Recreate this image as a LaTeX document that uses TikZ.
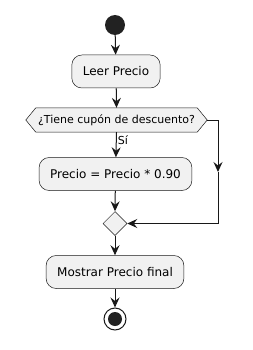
\documentclass[tikz,border=0pt]{standalone}
\usepackage{fontspec}
\setmainfont{DejaVu Sans}
\usetikzlibrary{arrows.meta,calc,shapes.geometric}
\definecolor{actfill}{HTML}{F1F1F1}
\definecolor{actline}{HTML}{181818}
\definecolor{dotfill}{HTML}{222222}
\begin{document}
\begin{tikzpicture}[x=1pt,y=-1pt,
  act/.style={draw=actline,line width=0.5pt,fill=actfill,rounded corners=10pt,
    minimum height=33pt,inner xsep=11pt,font=\fontsize{12}{14}\selectfont},
  flow/.style={draw=actline,line width=1pt,-{Stealth[length=10pt,width=9pt,inset=3.5pt]}},
  plain/.style={draw=actline,line width=1pt}]
\useasboundingbox (0,0) rectangle (252,350);
\node[circle,fill=dotfill,minimum size=20pt,inner sep=0pt] (start) at (115,25) {};
\node[act] (leer) at (116,71.5) {Leer Precio};
\node[minimum width=181pt,minimum height=24pt,inner sep=0pt,font=\fontsize{11}{13}\selectfont] (dec) at (116.5,120) {};
\draw[draw=actline,line width=0.5pt,fill=actfill]
  (dec.west) -- ($(dec.north west)+(10,0)$) -- ($(dec.north east)+(-10,0)$) -- (dec.east)
  -- ($(dec.south east)+(-10,0)$) -- ($(dec.south west)+(10,0)$) -- cycle;
\node[font=\fontsize{11}{13}\selectfont] at (dec) {¿Tiene cupón de descuento?};
\node[act] (calcbox) at (115.5,174) {Precio = Precio * 0.90};
\node[diamond,draw=actline,line width=0.5pt,fill=actfill,minimum size=24pt,inner sep=0pt] (merge) at (115,223.5) {};
\node[act] (show) at (115,272) {Mostrar Precio final};
\node[circle,draw=actline,line width=1pt,fill=white,minimum size=22pt,inner sep=0pt] (stop) at (115,319) {};
\node[circle,fill=dotfill,minimum size=14pt,inner sep=0pt] (stopdot) at (stop) {};
\coordinate (c1) at (218,120);
\coordinate (cm) at (218,172);
\coordinate (c2) at (218,223.5);
\draw[flow] (start) -- (leer);
\draw[flow] (leer) -- (dec.north);
\draw[flow] (dec.south) -- node[pos=0.3,right=0pt,font=\fontsize{11}{13}\selectfont,inner sep=1pt] (si) {Sí} (calcbox);
\draw[flow] (calcbox) -- (merge.north);
\draw[flow] (dec.east) -- (c1) -- (cm);
\draw[flow] (cm) -- (c2) -- (merge.east);
\draw[flow] (merge.south) -- (show);
\draw[flow] (show) -- (stop);
\end{tikzpicture}
\end{document}
